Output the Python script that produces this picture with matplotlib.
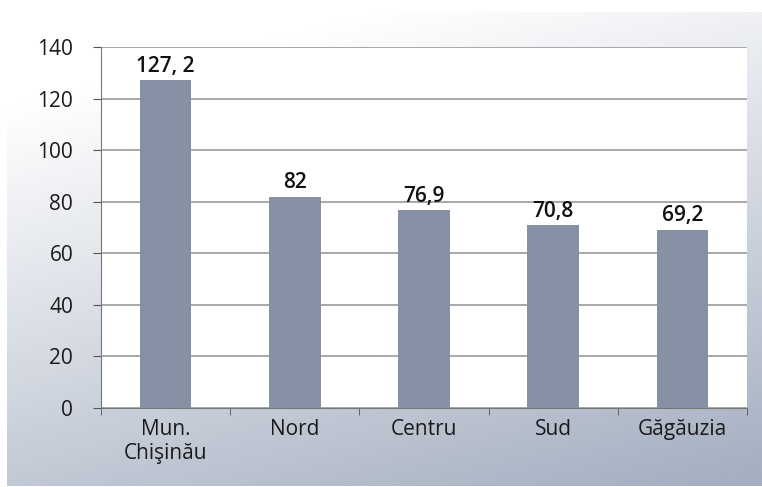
import numpy as np
import matplotlib.pyplot as plt
from matplotlib.colors import LinearSegmentedColormap

regions = ["Mun.\nChişinău", "Nord", "Centru", "Sud", "Găgăuzia"]
values = [127.2, 82, 76.9, 70.8, 69.2]
value_labels = ["127, 2", "82", "76,9", "70,8", "69,2"]
y_ticks = [0, 20, 40, 60, 80, 100, 120, 140]

plt.rcParams['font.family'] = ['Open Sans', 'DejaVu Sans']

fig = plt.figure(figsize=(7.62, 4.87), dpi=100)

# soft white-to-steel gradient behind the chart
bg = fig.add_axes([7 / 762, 1 / 487, 755 / 762, 474 / 487])
yy, xx = np.mgrid[0:1:200j, 0:1:300j]
t = np.clip(0.85 * yy + 0.35 * xx - 0.17, 0, 1)
cmap = LinearSegmentedColormap.from_list("bg", ["#ffffff", "#a6b0c2"])
bg.imshow(t, cmap=cmap, vmin=0, vmax=1, aspect='auto', origin='upper', extent=[0, 1, 0, 1])
bg.set_axis_off()

ax = fig.add_axes([101 / 762, (487 - 408) / 487, 646 / 762, 361 / 487])
ax.set_facecolor('white')
x = np.arange(len(regions))
ax.bar(x, values, width=0.4, color='#8791a6', zorder=3)

for xi, v, lab in zip(x, values, value_labels):
    ax.text(xi, v + 1.2, lab, ha='center', va='bottom', fontsize=15,
            fontweight='semibold', color='#111111', zorder=4)

ax.set_xlim(-0.5, len(regions) - 0.5)
ax.set_ylim(0, 140)
ax.set_yticks(y_ticks)
ax.set_yticklabels([str(t) for t in y_ticks], fontsize=15, color='#1a1a1a')
ax.yaxis.grid(True, color='#9a9a9a', linewidth=1.2, zorder=0)
ax.tick_params(axis='y', length=6, color='#555555', pad=14)

ax.set_xticks(x)
ax.set_xticklabels(regions, fontsize=15, color='#1a1a1a')
ax.tick_params(axis='x', length=0, pad=8)
ax.set_xticks(np.arange(-0.5, len(regions)), minor=True)
ax.tick_params(axis='x', which='minor', length=5, color='#555555')

for side in ['top', 'right']:
    ax.spines[side].set_visible(False)
ax.spines['left'].set_color('#777777')
ax.spines['bottom'].set_color('#777777')

fig.savefig('out.png', dpi=100)
